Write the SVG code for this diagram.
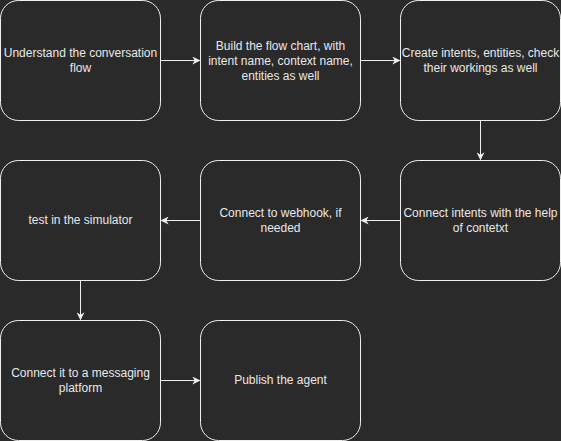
<svg xmlns="http://www.w3.org/2000/svg" width="561" height="441" viewBox="0 0 561 441">
<defs>
<style>
.n{fill:#2a2a2a;stroke:#f0f0f0;stroke-width:1}
.t{font-family:"Liberation Sans",Arial,sans-serif;font-size:12px;fill:#e8e8e8;text-anchor:middle}
.c{stroke:#f0f0f0;stroke-width:1;fill:none;marker-end:url(#a)}
</style>
<marker id="a" viewBox="0 0 10 10" refX="9" refY="5" markerWidth="8" markerHeight="8" markerUnits="userSpaceOnUse" orient="auto">
<path d="M0,0 L10,5 L0,10 L3,5 Z" fill="#f0f0f0"/>
</marker>
</defs>
<rect width="561" height="441" fill="#2a2a2a"/>
<g id="connectors">
<path class="c" d="M160.5,60.5 H199.5"/>
<path class="c" d="M360.5,60.5 H399.5"/>
<path class="c" d="M480.5,120.5 V159.5"/>
<path class="c" d="M400.5,220.5 H361.5"/>
<path class="c" d="M200.5,220.5 H161.5"/>
<path class="c" d="M80.5,280.5 V319.5"/>
<path class="c" d="M160.5,380.5 H199.5"/>
</g>
<g id="n1"><rect class="n" x="0.5" y="0.5" width="160" height="120" rx="18"/>
<text class="t" x="80.5" y="57">Understand the conversation</text><text class="t" x="80.5" y="72">flow</text></g>
<g id="n2"><rect class="n" x="200.5" y="0.5" width="160" height="120" rx="18"/>
<text class="t" x="280.5" y="49.5">Build the flow chart, with</text><text class="t" x="280.5" y="64.5">intent name, context name,</text><text class="t" x="280.5" y="79.5">entities as well</text></g>
<g id="n3"><rect class="n" x="400.5" y="0.5" width="160" height="120" rx="18"/>
<text class="t" x="480.5" y="57">Create intents, entities, check</text><text class="t" x="480.5" y="72">their workings as well</text></g>
<g id="n4"><rect class="n" x="400.5" y="160.5" width="160" height="120" rx="18"/>
<text class="t" x="480.5" y="217">Connect intents with the help</text><text class="t" x="480.5" y="232">of contetxt</text></g>
<g id="n5"><rect class="n" x="200.5" y="160.5" width="160" height="120" rx="18"/>
<text class="t" x="280.5" y="217">Connect to webhook, if</text><text class="t" x="280.5" y="232">needed</text></g>
<g id="n6"><rect class="n" x="0.5" y="160.5" width="160" height="120" rx="18"/>
<text class="t" x="80.5" y="224">test in the simulator</text></g>
<g id="n7"><rect class="n" x="0.5" y="320.5" width="160" height="120" rx="18"/>
<text class="t" x="80.5" y="377">Connect it to a messaging</text><text class="t" x="80.5" y="392">platform</text></g>
<g id="n8"><rect class="n" x="200.5" y="320.5" width="160" height="120" rx="18"/>
<text class="t" x="280.5" y="384">Publish the agent</text></g>
</svg>
